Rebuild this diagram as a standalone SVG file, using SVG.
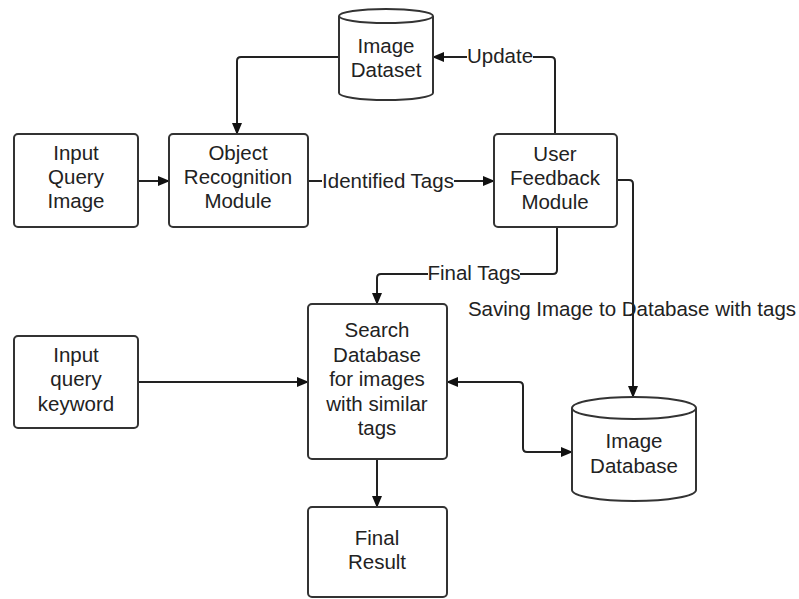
<svg xmlns="http://www.w3.org/2000/svg" width="799" height="599" viewBox="0 0 799 599">
<defs>
<style>
.box{fill:#fff;stroke:#333;stroke-width:2}
.ln{fill:none;stroke:#222;stroke-width:2}
text{font-family:"Liberation Sans",Arial,sans-serif;font-size:20.5px;fill:#222;text-anchor:middle}
.lbl{fill:#fff}
</style>
<marker id="ah" markerWidth="12" markerHeight="10" refX="11" refY="5" orient="auto" markerUnits="userSpaceOnUse">
<path d="M0,0 L12,5 L0,10 Z" fill="#111"/>
</marker>
</defs>
<rect width="799" height="599" fill="#fff"/>
<g id="connectors">
<path class="ln" d="M339,57 H241 Q237,57 237,61 V134" marker-end="url(#ah)"/>
<path class="ln" d="M138,181 H169" marker-end="url(#ah)"/>
<path class="ln" d="M308,181 H494" marker-end="url(#ah)"/>
<path class="ln" d="M555,134 V61 Q555,57 551,57 H433" marker-end="url(#ah)"/>
<path class="ln" d="M617,180 H629 Q633,180 633,184 V397" marker-end="url(#ah)"/>
<path class="ln" d="M557,227 V270 Q557,274 553,274 H381 Q377,274 377,278 V304" marker-end="url(#ah)"/>
<path class="ln" d="M138,382 H308" marker-end="url(#ah)"/>
<path class="ln" d="M377,459 V507" marker-end="url(#ah)"/>
<path class="ln" d="M523,386 V448 Q523,452 527,452 H572" marker-end="url(#ah)"/>
<path class="ln" d="M523,386 Q523,382 519,382 H447" marker-end="url(#ah)"/>
<rect class="lbl" x="467" y="44" width="66" height="26"/>
<text x="500" y="63">Update</text>
<rect class="lbl" x="322" y="168" width="132" height="26"/>
<text x="388" y="188">Identified Tags</text>
<rect class="lbl" x="428" y="262" width="92" height="24"/>
<text x="474" y="280">Final Tags</text>
<text x="632" y="316">Saving Image to Database with tags</text>
</g>
<g id="image-dataset">
<path class="box" d="M339,16 V93 A47,7 0 0 0 433,93 V16 A47,7 0 0 0 339,16 Z"/>
<path class="box" d="M339,16 A47,7 0 0 0 433,16" fill="none"/>
<text x="386" y="53">Image</text>
<text x="386" y="77">Dataset</text>
</g>
<g id="input-query-image">
<rect class="box" x="14" y="134" width="124" height="93" rx="4"/>
<text x="76" y="160">Input</text>
<text x="76" y="184">Query</text>
<text x="76" y="208">Image</text>
</g>
<g id="object-recognition">
<rect class="box" x="169" y="134" width="139" height="93" rx="4"/>
<text x="238" y="160">Object</text>
<text x="238" y="184">Recognition</text>
<text x="238" y="208">Module</text>
</g>
<g id="user-feedback">
<rect class="box" x="494" y="134" width="123" height="93" rx="4"/>
<text x="555" y="161">User</text>
<text x="555" y="185">Feedback</text>
<text x="555" y="209">Module</text>
</g>
<g id="input-query-keyword">
<rect class="box" x="14" y="336" width="124" height="92" rx="4"/>
<text x="76" y="362">Input</text>
<text x="76" y="386">query</text>
<text x="76" y="411">keyword</text>
</g>
<g id="search-database">
<rect class="box" x="308" y="304" width="139" height="155" rx="4"/>
<text x="377" y="337">Search</text>
<text x="377" y="362">Database</text>
<text x="377" y="386">for images</text>
<text x="377" y="411">with similar</text>
<text x="377" y="435">tags</text>
</g>
<g id="final-result">
<rect class="box" x="308" y="507" width="139" height="90" rx="4"/>
<text x="377" y="545">Final</text>
<text x="377" y="569">Result</text>
</g>
<g id="image-database">
<path class="box" d="M572,408 V490 A62,11 0 0 0 696,490 V408 A62,11 0 0 0 572,408 Z"/>
<path class="box" d="M572,408 A62,11 0 0 0 696,408" fill="none"/>
<text x="634" y="448">Image</text>
<text x="634" y="473">Database</text>
</g>
</svg>
